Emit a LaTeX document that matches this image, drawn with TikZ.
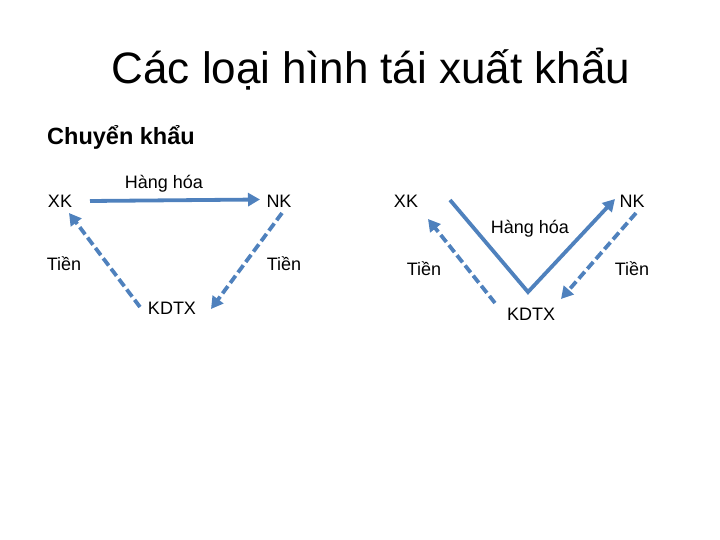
\documentclass[tikz,border=0pt]{standalone}
\usepackage{fontspec}
\setmainfont{Liberation Sans}
\usetikzlibrary{arrows.meta}
\definecolor{arr}{HTML}{4F81BD}
\begin{document}
\begin{tikzpicture}[x=1pt,y=-1pt,
  lab/.style={font=\fontsize{18}{20}\selectfont, inner sep=0pt},
  flow/.style={draw=arr, line width=3.8pt, -{Triangle[length=12pt,width=13pt]}},
  money/.style={flow, dash pattern=on 9pt off 4pt}]
\useasboundingbox (0,0) rectangle (720,540);
\node[inner sep=0pt, font=\fontsize{44}{48}\selectfont] (title) at (371,69) {Các loại hình tái xuất khẩu};
\node[inner sep=0pt, anchor=west, font=\fontsize{23.5}{26}\bfseries\selectfont] (sub) at (47,137) {Chuyển khẩu};
% left diagram
\node[lab] (xk1) at (60,201) {XK};
\node[lab] (nk1) at (279,201) {NK};
\node[lab] (hh1) at (164,184) {Hàng hóa};
\node[lab] (t1a) at (64,264) {Tiền};
\node[lab] (t1b) at (284,264) {Tiền};
\node[lab] (kd1) at (172,308) {KDTX};
\coordinate (a1) at (90,201);
\coordinate (a2) at (260,199.5);
\coordinate (b1) at (140,307);
\coordinate (b2) at (69,213);
\coordinate (c1) at (282,213);
\coordinate (c2) at (211,309);
\draw[flow] (a1) -- (a2);
\draw[money] (b1) -- (b2);
\draw[money] (c1) -- (c2);
% right diagram
\node[lab] (xk2) at (406,201) {XK};
\node[lab] (nk2) at (632,201) {NK};
\node[lab] (hh2) at (530,229) {Hàng hóa};
\node[lab] (t2a) at (424,269) {Tiền};
\node[lab] (t2b) at (632,269) {Tiền};
\node[lab] (kd2) at (531,314) {KDTX};
\coordinate (d1) at (450,200);
\coordinate (d2) at (528,292);
\coordinate (d3) at (615,199);
\coordinate (e1) at (495,303);
\coordinate (e2) at (428,219);
\coordinate (f1) at (636,213);
\coordinate (f2) at (561,299);
\draw[flow, line join=miter] (d1) -- (d2) -- (d3);
\draw[money] (e1) -- (e2);
\draw[money] (f1) -- (f2);
\end{tikzpicture}
\end{document}
